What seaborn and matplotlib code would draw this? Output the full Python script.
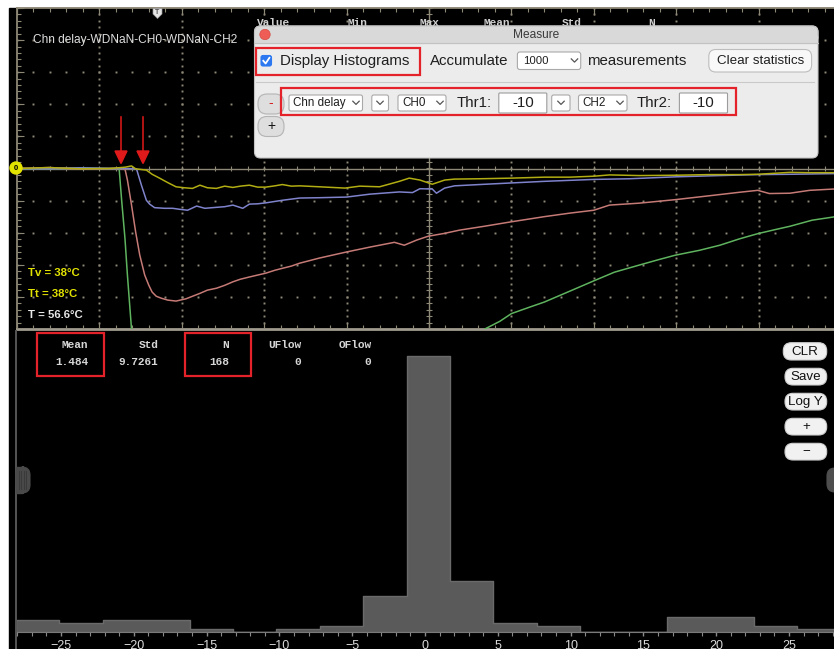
import numpy as np
import pandas as pd
import matplotlib
matplotlib.use("Agg")
import matplotlib.pyplot as plt
from matplotlib.patches import FancyBboxPatch, Rectangle, Circle, Polygon
import seaborn as sns

# ---------------- scope traces (time and amplitude in screen divisions) ----------------
yellow_t = [0, 0.39, 0.76, 1.12, 1.31, 1.39, 1.44, 1.57, 1.64, 1.73, 1.83, 1.93, 2.03, 2.13,
            2.22, 2.31, 2.42, 2.52, 2.62, 2.71, 2.82, 2.92, 3.02, 3.13, 3.22, 3.33, 3.43, 3.67,
            3.98, 4.16, 4.40, 4.64, 4.76, 4.89, 5.04, 5.19, 5.31, 5.61, 6.00, 6.40, 6.71, 7.00,
            7.19, 7.55, 7.99, 8.40, 8.77, 8.99, 9.38, 9.62, 9.91, 10.0]
yellow_v = [0.0, 0.03, -0.01, 0.0, 0.04, 0.08, -0.01, -0.05, -0.18, -0.30, -0.44, -0.57, -0.60, -0.62,
            -0.52, -0.60, -0.62, -0.55, -0.59, -0.55, -0.52, -0.58, -0.58, -0.54, -0.50, -0.55, -0.54, -0.57,
            -0.61, -0.55, -0.57, -0.40, -0.30, -0.36, -0.49, -0.36, -0.33, -0.32, -0.30, -0.27, -0.27, -0.24,
            -0.20, -0.22, -0.21, -0.19, -0.19, -0.18, -0.12, -0.13, -0.13, -0.12]

blue_t = [0, 0.39, 0.76, 1.12, 1.36, 1.45, 1.51, 1.57, 1.61, 1.67, 1.79, 1.89, 1.97, 2.07, 2.18,
          2.28, 2.42, 2.52, 2.62, 2.74, 2.82, 2.92, 3.02, 3.22, 3.43, 3.67, 4.00, 4.28, 4.64, 4.80,
          4.89, 5.04, 5.09, 5.19, 5.31, 5.61, 6.00, 6.40, 7.00, 7.43, 7.99, 8.53, 8.99, 9.38, 9.91, 10.0]
blue_v = [0.0, -0.01, 0.02, 0.0, 0.0, -0.01, -0.52, -0.99, -1.11, -1.22, -1.24, -1.24, -1.27, -1.30, -1.17,
          -1.24, -1.21, -1.19, -1.14, -1.24, -1.11, -1.10, -1.07, -0.99, -0.92, -0.91, -0.89, -0.80, -0.73, -0.75,
          -0.63, -0.64, -0.77, -0.61, -0.54, -0.50, -0.45, -0.40, -0.34, -0.32, -0.26, -0.22, -0.19, -0.18, -0.16, -0.15]

red_t = [0, 0.39, 0.76, 1.12, 1.27, 1.31, 1.34, 1.39, 1.44, 1.49, 1.55, 1.60, 1.64, 1.69, 1.75,
         1.83, 1.93, 2.05, 2.13, 2.22, 2.31, 2.42, 2.52, 2.62, 2.71, 2.82, 2.92, 3.02, 3.13, 3.22,
         3.33, 3.43, 3.67, 4.00, 4.28, 4.58, 4.70, 4.85, 4.99, 5.19, 5.37, 5.67, 6.00, 6.40, 6.71,
         7.00, 7.19, 7.55, 7.99, 8.40, 8.77, 8.99, 9.13, 9.38, 9.62, 9.91, 10.0]
red_v = [0.0, 0.03, -0.01, 0.0, 0.0, -0.01, -0.36, -1.14, -1.98, -2.70, -3.32, -3.64, -3.85, -3.98, -4.04,
         -4.10, -4.13, -4.06, -3.98, -3.89, -3.79, -3.73, -3.64, -3.53, -3.45, -3.38, -3.32, -3.26, -3.17, -3.11,
         -3.04, -2.95, -2.79, -2.60, -2.45, -2.30, -2.39, -2.23, -2.11, -2.02, -1.92, -1.80, -1.66, -1.50, -1.39,
         -1.30, -1.14, -1.08, -0.97, -0.85, -0.74, -0.68, -0.78, -0.77, -0.68, -0.64, -0.64]

green_t = [0, 0.39, 0.76, 1.12, 1.22, 1.24, 1.27, 1.31, 1.34, 1.39, 1.40, 5.49, 5.67, 5.86, 6.00,
           6.22, 6.40, 6.71, 7.00, 7.25, 7.55, 7.80, 7.99, 8.28, 8.53, 8.77, 8.99, 9.19, 9.38, 9.65,
           9.91, 10.0]
green_v = [0.0, -0.01, 0.02, 0.0, 0.0, -0.02, -0.99, -2.17, -3.32, -5.01, -5.5, -5.5, -5.01, -4.76, -4.52,
           -4.32, -4.16, -3.82, -3.50, -3.23, -3.01, -2.83, -2.70, -2.55, -2.39, -2.19, -2.03, -1.91, -1.80, -1.61,
           -1.51, -1.46]

trace_colors = {"yellow": "#b1ad12", "blue": "#7f83cc", "red": "#c57a76", "green": "#5fb35f"}

# ---------------- channel delay histogram ----------------
hist_start = -28.09
hist_width = 2.98
hist_counts = [4, 3, 4, 4, 1, 0, 1, 2, 12, 92, 17, 3, 2, 0, 0, 5, 5, 2, 1]
hist_xlim = (-28.09, 28.57)
hist_ylim = (0, 100)
hist_ticks = [-25, -20, -15, -10, -5, 0, 5, 10, 15, 20, 25]

stat_names = ["Mean", "Std", "N", "UFlow", "OFlow"]
stat_values = ["1.484", "9.7261", "168", "0", "0"]
header_names = ["Value", "Min", "Max", "Mean", "Std", "N"]
title_text = "Chn delay-WDNaN-CH0-WDNaN-CH2"
temp_labels = ["Tv = 38°C", "Tt = 38°C", "T = 56.6°C"]
side_buttons = ["CLR", "Save", "Log Y", "+", "\u2212"]

plt.rcParams["font.family"] = ["Liberation Sans", "DejaVu Sans"]
MONO = "Liberation Mono"

W, H = 834, 649
fig = plt.figure(figsize=(W / 100, H / 100), dpi=100, facecolor="white")


def frac_rect(x0, y0, x1, y1):
    return [x0 / W, 1 - y1 / H, (x1 - x0) / W, (y1 - y0) / H]


# background panel
bg = fig.add_axes([0, 0, 1, 1], zorder=0)
bg.set_xlim(0, W)
bg.set_ylim(H, 0)
bg.axis("off")
bg.add_patch(Rectangle((9, 8), W - 9, H - 8, color="black"))

# ---------------- scope screen ----------------
ax = fig.add_axes(frac_rect(17, 8, 841, 329), zorder=1)
ax.patch.set_visible(False)
ax.set_xlim(0, 10)
ax.set_ylim(-5, 5)
ax.axis("off")

gc = "#8e8877"
minor_x = np.arange(0, 10.001, 0.2)
minor_y = np.arange(-5, 5.001, 0.2)
for gx in range(1, 10):
    if gx != 5:
        ax.plot(np.full_like(minor_y, gx), minor_y, ls="none", marker="s", ms=1.4, mew=0, color=gc)
for gy in range(-4, 5):
    if gy != 0:
        ax.plot(minor_x, np.full_like(minor_x, gy), ls="none", marker="s", ms=1.4, mew=0, color=gc)
ax.axhline(0, color=gc, lw=1.0)
ax.axvline(5, color=gc, lw=1.0)
ax.vlines(minor_x, -0.09, 0.09, color=gc, lw=0.8)
ax.hlines(minor_y, 5 - 0.035, 5 + 0.035, color=gc, lw=0.8)
# frame with inward ticks
ax.plot([0, 0], [-5, 5], color=gc, lw=1.3, clip_on=False)
ax.plot([0, 10], [5, 5], color=gc, lw=1.3, clip_on=False)
ax.plot([0, 10], [-5, -5], color="#a09b8e", lw=2.0, clip_on=False)
ax.hlines(minor_y, 0, 0.045, color=gc, lw=0.8)
ax.hlines(np.arange(-5, 6), 0, 0.09, color=gc, lw=0.8)
ax.vlines(minor_x, 5 - 0.11, 5, color=gc, lw=0.8)
ax.vlines(np.arange(0, 11), 5 - 0.22, 5, color=gc, lw=0.8)
ax.vlines(minor_x, -5, -5 + 0.11, color=gc, lw=0.8)
ax.vlines(np.arange(0, 11), -5, -5 + 0.22, color=gc, lw=0.8)

for t, v, key in [(green_t, green_v, "green"), (red_t, red_v, "red"),
                  (blue_t, blue_v, "blue"), (yellow_t, yellow_v, "yellow")]:
    trace = pd.DataFrame({"t": t, "v": v})
    sns.lineplot(data=trace, x="t", y="v", ax=ax, color=trace_colors[key], lw=1.1,
                 estimator=None, sort=False, legend=False)
ax.set_xlim(0, 10)
ax.set_ylim(-5, 5)

# ---------------- histogram ----------------
axh = fig.add_axes(frac_rect(16, 332, 841, 632), zorder=1)
axh.patch.set_visible(False)
edges = [hist_start + hist_width * k for k in range(len(hist_counts) + 1)]
hist_df = pd.DataFrame({
    "delay": [(edges[k] + edges[k + 1]) / 2 for k in range(len(hist_counts))],
    "count": hist_counts,
})
sns.histplot(data=hist_df, x="delay", weights="count", bins=edges, element="step", fill=True,
             color="#5a5a5a", alpha=1, edgecolor="#6a6a6a", linewidth=1, ax=axh)
axh.set_xlim(*hist_xlim)
axh.set_ylim(*hist_ylim)
axh.set_xlabel("")
axh.set_ylabel("")
axh.set_yticks([])
axh.set_xticks(hist_ticks)
axh.set_xticks(np.arange(-28, 29, 1), minor=True)
for s in ["top", "right", "left"]:
    axh.spines[s].set_visible(False)
axh.spines["bottom"].set_color("#7a7a7a")
axh.tick_params(axis="x", which="major", colors="#8a8a8a", length=3, width=1,
                labelcolor="#dadada", labelsize=9, pad=3)
axh.tick_params(axis="x", which="minor", colors="#8a8a8a", length=3, width=0.8)

# ---------------- overlay: annotations and measure dialog ----------------
ov = fig.add_axes([0, 0, 1, 1], zorder=5)
ov.patch.set_visible(False)
ov.set_xlim(0, W)
ov.set_ylim(H, 0)
ov.axis("off")


def rbox(x0, y0, x1, y1, fc, ec, r, lw=0.8, z=6):
    ov.add_patch(FancyBboxPatch((x0, y0), x1 - x0, y1 - y0,
                                boxstyle=f"round,pad=0,rounding_size={r}",
                                fc=fc, ec=ec, lw=lw, zorder=z))


def chevron(cx, cy):
    ov.plot([cx - 3.2, cx, cx + 3.2], [cy - 1.6, cy + 1.6, cy - 1.6],
            color="#555555", lw=0.9, zorder=8)


def red_box(x0, y0, x1, y1):
    ov.add_patch(Rectangle((x0, y0), x1 - x0, y1 - y0, fill=False,
                           ec="#e4222a", lw=1.6, zorder=9))


# histogram panel left edge and side handles
ov.plot([16, 16], [331, 649], color="#555555", lw=1.4, zorder=2)
rbox(16, 467, 30, 493, "#4a4a4a", "#4a4a4a", 8, z=3)
ov.add_patch(Rectangle((16, 467), 6, 26, color="#4a4a4a", zorder=3))
for sx in [19, 21.5, 24, 26.5]:
    ov.plot([sx, sx], [471, 489], color="#3a3a3a", lw=0.8, zorder=3.5)
rbox(827, 468, 845, 492, "#4e4e4e", "#4e4e4e", 8, z=3)

# scope labels
ov.text(33, 39.5, title_text, color="#dedede", fontsize=8.6, va="center", ha="left")
ov.add_patch(Polygon([(153, 8.5), (162, 8.5), (162, 14), (157.5, 18.5), (153, 14)],
                     closed=True, fc="#e6e6e6", ec="#9a9a9a", lw=0.5, zorder=4))
ov.text(157.5, 12.5, "T", fontsize=5, color="#555555", ha="center", va="center",
        weight="bold", zorder=4.5)
ov.add_patch(Circle((16, 168), 6, fc="#e3e300", ec="#e3e300", zorder=4))
ov.text(16, 168.4, "0", fontsize=5.5, color="black", ha="center", va="center",
        weight="bold", zorder=4.5)
for lbl, yy, col in zip(temp_labels, [273, 294, 314.5], ["#e2e200", "#e2e200", "#e8e8e8"]):
    ov.text(28, yy, lbl, color=col, fontsize=8.2, weight="bold", va="center", ha="left")

for ax_x in [121, 143]:
    ov.plot([ax_x, ax_x], [117, 152], color="#d01818", lw=1.2, zorder=4)
    ov.add_patch(Polygon([(ax_x - 6, 151), (ax_x + 6, 151), (ax_x, 163.5)],
                         closed=True, color="#e01a1a", zorder=4))

# measurement header row (partly hidden by the dialog)
for name, hx in zip(header_names, [256.7, 347.6, 419.5, 484, 562, 648]):
    ov.text(hx, 22.5, name, family=MONO, weight="bold", fontsize=8, color="#cfcfcf",
            va="center", ha="left", zorder=5)

# Measure dialog
rbox(254.5, 26, 818, 158, "#ececec", "#c4c4c4", 6, z=6)
rbox(254.5, 26, 818, 43, "#d9d9d9", "#c4c4c4", 6, z=6.1)
ov.add_patch(Rectangle((255, 36), 562.5, 7, color="#d9d9d9", zorder=6.2))
ov.plot([254.5, 818], [43, 43], color="#c2c2c2", lw=0.8, zorder=6.3)
ov.add_patch(Circle((265, 34.5), 5.2, fc="#ee5d56", ec="#d54a43", lw=0.5, zorder=7))
ov.text(536, 34.5, "Measure", fontsize=8.6, color="#3a3a3a", ha="center", va="center", zorder=7)

red_box(255.6, 47.7, 420, 75)
rbox(261, 55.5, 271.5, 66, "#2b78f0", "#2b78f0", 2, z=7)
ov.plot([263.3, 265.6, 269.4], [60.8, 63.5, 57.8], color="white", lw=1.3, zorder=8)
ui = dict(color="#1f1f1f", va="center", ha="left", zorder=8)
ov.text(279.8, 61, "Display Histograms", fontsize=10.8, **ui)
ov.text(429.5, 61, "Accumulate", fontsize=10.8, **ui)
rbox(517.4, 52, 580.7, 69.5, "white", "#a9a9a9", 2.5, z=7)
ov.text(522.6, 61, "1000", fontsize=8.2, **ui)
chevron(574.5, 60.5)
ov.text(587, 61, "measurements", fontsize=10.8, **ui)
rbox(708.8, 49.5, 811.6, 72, "#f8f8f8", "#bdbdbd", 7, z=7)
ov.text(760.2, 61, "Clear statistics", fontsize=9.6, color="#1f1f1f", ha="center",
        va="center", zorder=8)
ov.plot([255.6, 814], [81.7, 81.7], color="#c9c9c9", lw=0.8, zorder=7)

rbox(258, 94, 284, 114, "#dedede", "#b4b4b4", 9, z=7)
ov.text(271, 103.5, "-", fontsize=10, color="#d42020", ha="center", va="center", zorder=8)
rbox(258, 116.5, 284, 136.5, "#dedede", "#b4b4b4", 9, z=7)
ov.text(271, 126, "+", fontsize=10, color="#111111", ha="center", va="center", zorder=8)

red_box(281, 88.3, 736, 115)
for x0, x1, lbl, cx in [(289, 362.5, "Chn delay", 356), (371.8, 388.5, "", 380),
                        (398, 446, "CH0", 440), (551.7, 570, "", 561),
                        (578.5, 627, "CH2", 620)]:
    rbox(x0, 95, x1, 111, "white", "#a9a9a9", 2, z=7)
    if lbl:
        ov.text(x0 + 4, 103.3, lbl, fontsize=8.4, **ui)
    chevron(cx, 102.8)
ov.text(456.7, 103.3, "Thr1:", fontsize=10.8, **ui)
ov.text(637, 103.3, "Thr2:", fontsize=10.8, **ui)
for x0, x1 in [(498.8, 546.8), (679.4, 727.5)]:
    rbox(x0, 93, x1, 113, "white", "#9c9c9c", 1, z=7)
    ov.text((x0 + x1) / 2, 103.3, "-10", fontsize=10.8, color="#1f1f1f",
            ha="center", va="center", zorder=8)

# histogram statistics
for name, val, rx in zip(stat_names, stat_values, [88, 158.5, 229.2, 301, 371.5]):
    ov.text(rx, 345, name, family=MONO, weight="bold", fontsize=8, color="#d6d6d6",
            ha="right", va="center")
    ov.text(rx, 361.7, val, family=MONO, weight="bold", fontsize=8, color="#d6d6d6",
            ha="right", va="center")
red_box(37.3, 333.3, 104, 376)
red_box(185, 333.3, 250.7, 376)

# side buttons
for lbl, (y0, y1), (x0, x1) in zip(side_buttons,
                                   [(342.7, 360), (368.3, 385), (393.3, 410), (418.3, 435), (443.3, 460)],
                                   [(783.3, 826.7)] + [(785, 826.7)] * 4):
    rbox(x0, y0, x1, y1, "#f1f1f1", "#cfcfcf", 8, z=6)
    ov.text((x0 + x1) / 2, (y0 + y1) / 2 + 0.3, lbl, fontsize=9.6, color="#111111",
            ha="center", va="center", zorder=7)

fig.savefig("out.png", dpi=100, facecolor="white")
